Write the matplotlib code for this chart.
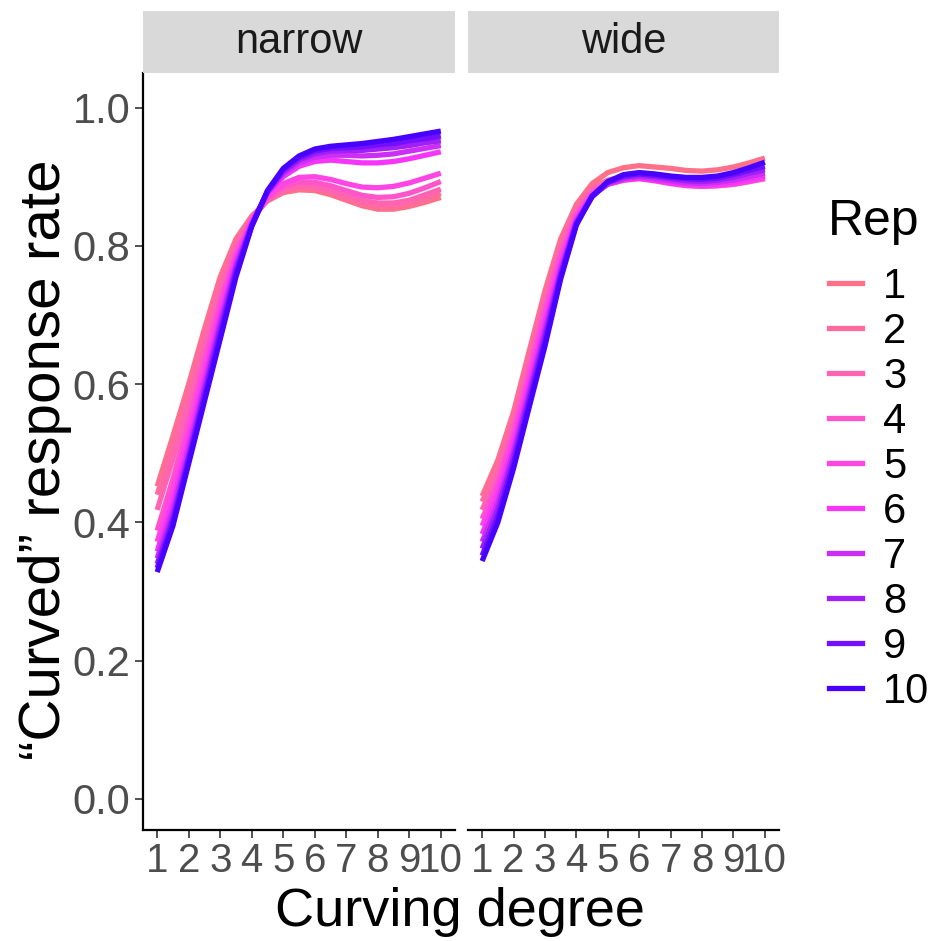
import matplotlib
matplotlib.use('Agg')
import matplotlib.pyplot as plt
from matplotlib.lines import Line2D

plt.rcParams['font.family'] = ['Liberation Sans', 'DejaVu Sans']

# curving degree grid the smoothed curves were read at
degree = [1, 1.5, 2, 2.5, 3, 3.5, 4, 4.5, 5, 5.5, 6, 6.5, 7, 7.5, 8, 8.5, 9, 9.5, 10]
reps = ['1', '2', '3', '4', '5', '6', '7', '8', '9', '10']
rep_colors = ['#FF7089', '#FF6B9E', '#FF64B3', '#FF55CB', '#FF45E3',
              '#F536F8', '#CC2EF5', '#A020F5', '#7310FF', '#4800FF']
panels = ['narrow', 'wide']

# smoothed "curved" response rate, one row per rep
narrow_rates = [
    [0.452, 0.525, 0.600, 0.680, 0.755, 0.810, 0.843, 0.865, 0.877, 0.881, 0.880, 0.874, 0.866, 0.858, 0.853, 0.853, 0.857, 0.863, 0.870],
    [0.440, 0.513, 0.590, 0.671, 0.747, 0.805, 0.841, 0.866, 0.879, 0.884, 0.883, 0.877, 0.869, 0.861, 0.857, 0.857, 0.861, 0.868, 0.876],
    [0.418, 0.492, 0.572, 0.655, 0.735, 0.798, 0.839, 0.867, 0.881, 0.887, 0.886, 0.881, 0.873, 0.866, 0.862, 0.862, 0.866, 0.874, 0.882],
    [0.388, 0.463, 0.548, 0.636, 0.720, 0.790, 0.837, 0.869, 0.885, 0.892, 0.892, 0.887, 0.880, 0.873, 0.870, 0.871, 0.876, 0.884, 0.893],
    [0.372, 0.447, 0.533, 0.623, 0.711, 0.785, 0.836, 0.872, 0.890, 0.899, 0.900, 0.896, 0.890, 0.885, 0.884, 0.886, 0.891, 0.898, 0.905],
    [0.358, 0.430, 0.518, 0.610, 0.700, 0.779, 0.834, 0.875, 0.900, 0.915, 0.922, 0.924, 0.922, 0.920, 0.920, 0.922, 0.926, 0.931, 0.936],
    [0.348, 0.418, 0.506, 0.599, 0.690, 0.773, 0.832, 0.877, 0.904, 0.920, 0.928, 0.931, 0.931, 0.930, 0.931, 0.933, 0.937, 0.941, 0.945],
    [0.340, 0.409, 0.497, 0.590, 0.682, 0.767, 0.830, 0.878, 0.907, 0.924, 0.933, 0.937, 0.938, 0.938, 0.940, 0.942, 0.945, 0.949, 0.952],
    [0.334, 0.402, 0.491, 0.582, 0.673, 0.761, 0.829, 0.879, 0.910, 0.927, 0.937, 0.941, 0.942, 0.943, 0.946, 0.948, 0.952, 0.955, 0.959],
    [0.328, 0.395, 0.485, 0.575, 0.665, 0.755, 0.828, 0.880, 0.912, 0.930, 0.940, 0.944, 0.946, 0.948, 0.951, 0.954, 0.958, 0.962, 0.966],
]

wide_rates = [
    [0.438, 0.490, 0.560, 0.648, 0.735, 0.810, 0.860, 0.890, 0.906, 0.913, 0.916, 0.914, 0.912, 0.909, 0.908, 0.910, 0.914, 0.920, 0.927],
    [0.430, 0.482, 0.552, 0.640, 0.727, 0.803, 0.855, 0.884, 0.895, 0.900, 0.903, 0.901, 0.897, 0.894, 0.891, 0.892, 0.895, 0.899, 0.903],
    [0.418, 0.470, 0.542, 0.630, 0.718, 0.795, 0.850, 0.880, 0.892, 0.898, 0.900, 0.897, 0.893, 0.890, 0.888, 0.889, 0.892, 0.896, 0.899],
    [0.405, 0.459, 0.532, 0.620, 0.708, 0.787, 0.846, 0.877, 0.890, 0.896, 0.898, 0.895, 0.891, 0.888, 0.886, 0.887, 0.889, 0.893, 0.897],
    [0.395, 0.450, 0.523, 0.611, 0.699, 0.780, 0.842, 0.875, 0.889, 0.895, 0.897, 0.894, 0.890, 0.887, 0.886, 0.887, 0.889, 0.893, 0.898],
    [0.383, 0.439, 0.513, 0.601, 0.689, 0.773, 0.839, 0.873, 0.889, 0.895, 0.898, 0.895, 0.891, 0.889, 0.888, 0.889, 0.892, 0.896, 0.901],
    [0.372, 0.428, 0.503, 0.591, 0.679, 0.766, 0.836, 0.872, 0.890, 0.897, 0.900, 0.897, 0.894, 0.891, 0.890, 0.892, 0.895, 0.900, 0.905],
    [0.362, 0.419, 0.495, 0.583, 0.671, 0.761, 0.834, 0.871, 0.891, 0.899, 0.902, 0.900, 0.897, 0.894, 0.893, 0.895, 0.899, 0.905, 0.910],
    [0.352, 0.409, 0.486, 0.575, 0.663, 0.756, 0.832, 0.871, 0.892, 0.901, 0.904, 0.902, 0.899, 0.897, 0.896, 0.898, 0.903, 0.909, 0.915],
    [0.344, 0.400, 0.478, 0.567, 0.655, 0.752, 0.830, 0.872, 0.893, 0.903, 0.906, 0.904, 0.901, 0.899, 0.899, 0.901, 0.906, 0.913, 0.921],
]

y_ticks = [0.0, 0.2, 0.4, 0.6, 0.8, 1.0]
x_ticks = [1, 2, 3, 4, 5, 6, 7, 8, 9, 10]

W, H = 933, 941
fig = plt.figure(figsize=(W / 100, H / 100), dpi=100)


def px_axes(x0, y0, x1, y1):
    # axes from pixel box (top-left origin)
    return fig.add_axes([x0 / W, 1 - y1 / H, (x1 - x0) / W, (y1 - y0) / H])


panel_x = [(143, 455), (468, 779)]
all_rates = [narrow_rates, wide_rates]

for i, (name, (x0, x1), rates) in enumerate(zip(panels, panel_x, all_rates)):
    ax = px_axes(x0, 73, x1, 830)
    for rep, col, vals in zip(reps, rep_colors, rates):
        ax.plot(degree, vals, color=col, lw=3.8, solid_capstyle='butt',
                solid_joinstyle='round')
    ax.set_xlim(0.55, 10.45)
    ax.set_ylim(-0.045, 1.05)
    ax.set_xticks(x_ticks)
    ax.set_xticklabels([str(t) for t in x_ticks])
    ax.set_yticks(y_ticks)
    ax.set_yticklabels(['%.1f' % t for t in y_ticks])
    for s in ['top', 'right']:
        ax.spines[s].set_visible(False)
    ax.spines['bottom'].set_linewidth(1.6)
    ax.spines['left'].set_linewidth(1.6)
    ax.tick_params(axis='both', length=6, width=1.2, color='#333333',
                   labelsize=30, labelcolor='#4D4D4D', pad=3)
    ax.tick_params(axis='x', labelsize=29)
    if i > 0:
        ax.spines['left'].set_visible(False)
        ax.tick_params(axis='y', left=False, labelleft=False)

    # facet strip
    sax = px_axes(x0, 11, x1, 73)
    sax.set_facecolor('#D9D9D9')
    sax.set_xticks([])
    sax.set_yticks([])
    for s in sax.spines.values():
        s.set_visible(False)
    sax.text(0.5, 0.5, name, ha='center', va='center', fontsize=30,
             color='#1A1A1A', transform=sax.transAxes)

fig.text(460 / W, 1 - 912 / H, 'Curving degree', ha='center', va='center',
         fontsize=39)
fig.text(45 / W, 1 - 460 / H, '\u201cCurved\u201d response rate', ha='center',
         va='center', rotation=90, fontsize=42)

# colour legend: title placed on its own, keys below it
fig.text(828 / W, 1 - 222 / H, 'Rep', ha='left', va='center', fontsize=36)
handles = [Line2D([0], [0], color=c, lw=3.8) for c in rep_colors]
leg = fig.legend(handles, reps, loc='upper left',
                 bbox_to_anchor=(808 / W, 1 - 246 / H), frameon=False,
                 fontsize=30, handlelength=0.8, handletextpad=0.5,
                 labelspacing=0.12, borderpad=0)

fig.savefig('out.png', dpi=100)
